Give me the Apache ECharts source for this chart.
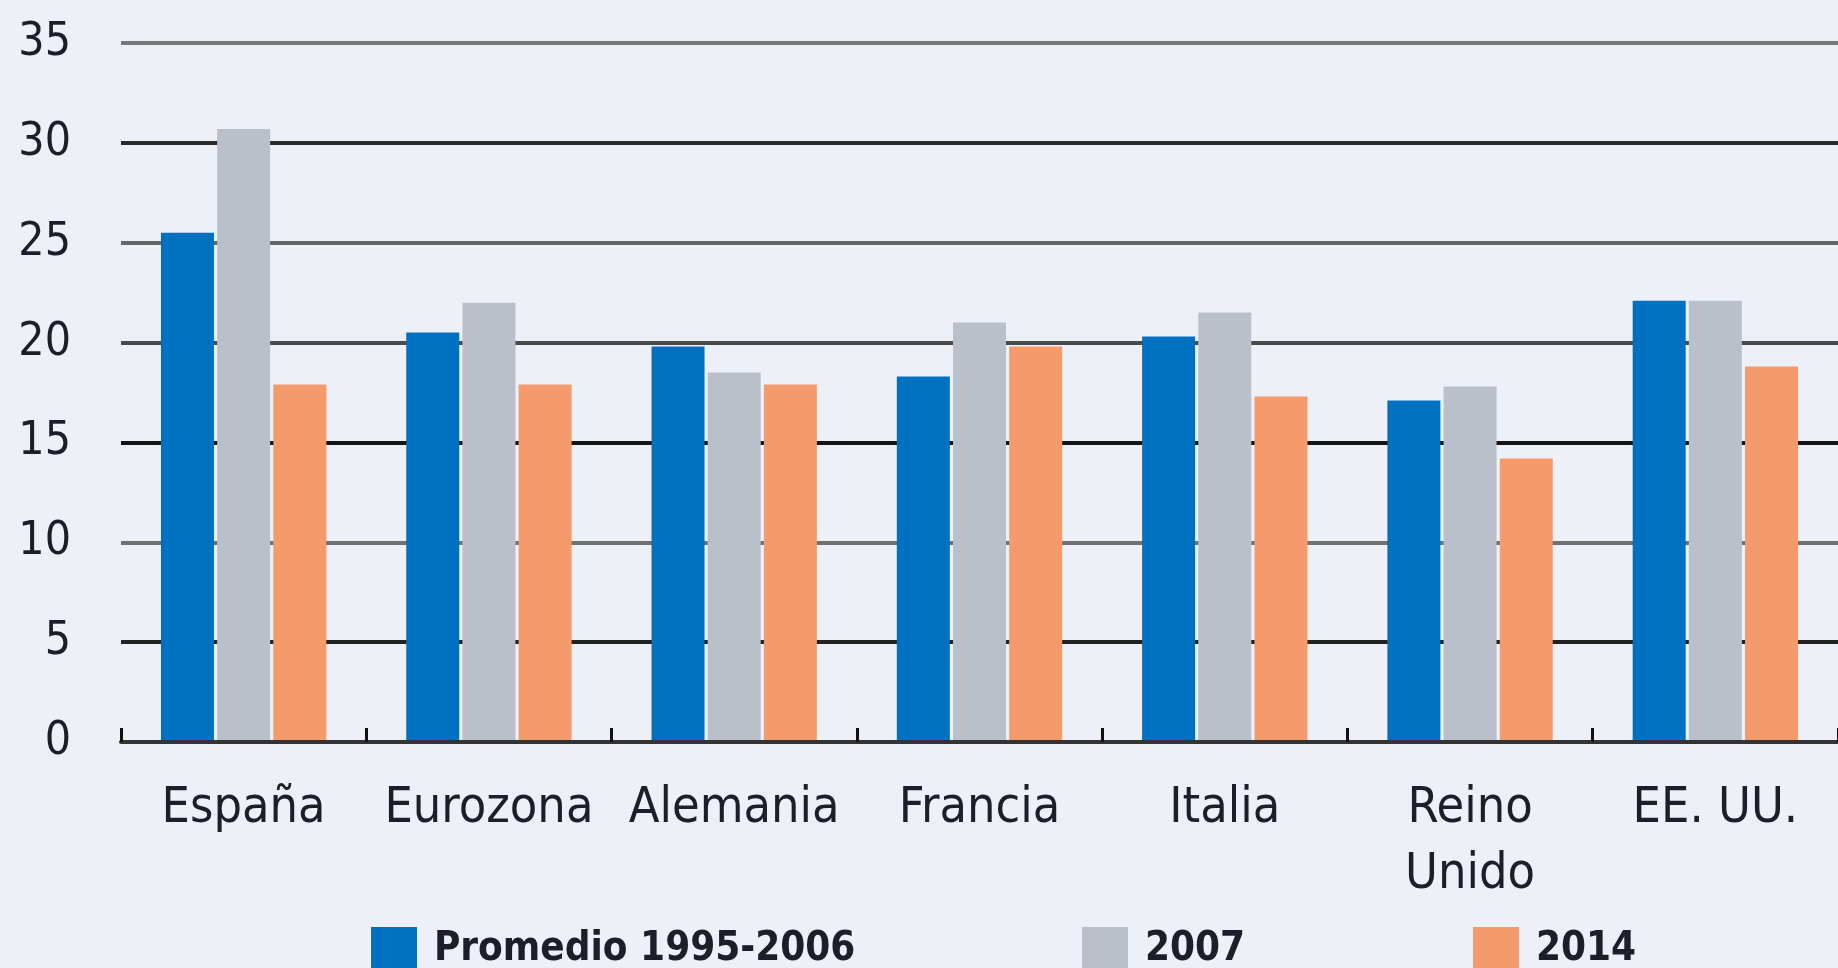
<!DOCTYPE html>
<html>
<head>
<meta charset="utf-8">
<script src="https://cdn.jsdelivr.net/npm/echarts@6/dist/echarts.min.js"></script>
<style>
  html, body { margin: 0; padding: 0; background: #eef0f8; }
  #main { width: 1838px; height: 968px; }
</style>
</head>
<body>
<div id="main"></div>
<script>
var categories = ['España', 'Eurozona', 'Alemania', 'Francia', 'Italia', 'Reino\nUnido', 'EE. UU.'];
var promedio = [25.5, 20.5, 19.8, 18.3, 20.3, 17.1, 22.1];
var y2007 = [30.7, 22.0, 18.5, 21.0, 21.5, 17.8, 22.1];
var y2014 = [17.9, 17.9, 17.9, 19.8, 17.3, 14.2, 18.8];
var seriesNames = ['Promedio 1995-2006', '2007', '2014'];
var colors = ['#0070c0', '#b9c0c9', '#f59a6b'];

var font = '"Liberation Sans Narrow", "DejaVu Sans Condensed", sans-serif';
var chart = echarts.init(document.getElementById('main'), null, { renderer: 'canvas' });

// one legend per item so each sits where the original has it
var legendLeft = [366, 1077, 1468];
var legends = seriesNames.map(function (name, i) {
  return {
    data: [name],
    left: legendLeft[i],
    top: 922,
    itemWidth: 46,
    itemHeight: 46,
    icon: 'rect',
    selectedMode: false,
    textStyle: {
      fontFamily: font,
      fontSize: 40,
      fontWeight: 'bold',
      color: '#1e1e2a',
      padding: [4, 0, 0, 12]
    }
  };
});

function bar(name, data, color) {
  return {
    name: name,
    type: 'bar',
    data: data,
    barWidth: 53,
    barGap: '6%',
    itemStyle: { color: color },
    z: 3
  };
}

var option = {
  backgroundColor: '#eef0f8',
  animation: false,
  color: colors,
  legend: legends,
  grid: { left: 121, right: -9, top: 43, bottom: 226 },
  xAxis: {
    type: 'category',
    data: categories,
    z: 5,
    axisLine: { show: true, lineStyle: { color: '#333333', width: 4 } },
    axisTick: { show: true, inside: true, length: 14, interval: 0, lineStyle: { color: '#111111', width: 3 } },
    axisLabel: {
      interval: 0,
      margin: 34,
      fontFamily: font,
      fontSize: 50,
      lineHeight: 66,
      color: '#1e1e2a'
    }
  },
  yAxis: {
    type: 'value',
    min: 0,
    max: 35,
    interval: 5,
    axisLine: { show: false },
    axisTick: { show: false },
    axisLabel: {
      margin: 50,
      fontFamily: font,
      fontSize: 46,
      color: '#1e1e2a'
    },
    splitLine: {
      lineStyle: {
        width: 4,
        color: ['#222222', '#222222', '#707070', '#151515', '#4a4a4a', '#666666', '#2a2a2a', '#777777']
      }
    }
  },
  series: [
    bar(seriesNames[0], promedio, colors[0]),
    bar(seriesNames[1], y2007, colors[1]),
    bar(seriesNames[2], y2014, colors[2])
  ]
};

chart.setOption(option);
</script>
</body>
</html>
